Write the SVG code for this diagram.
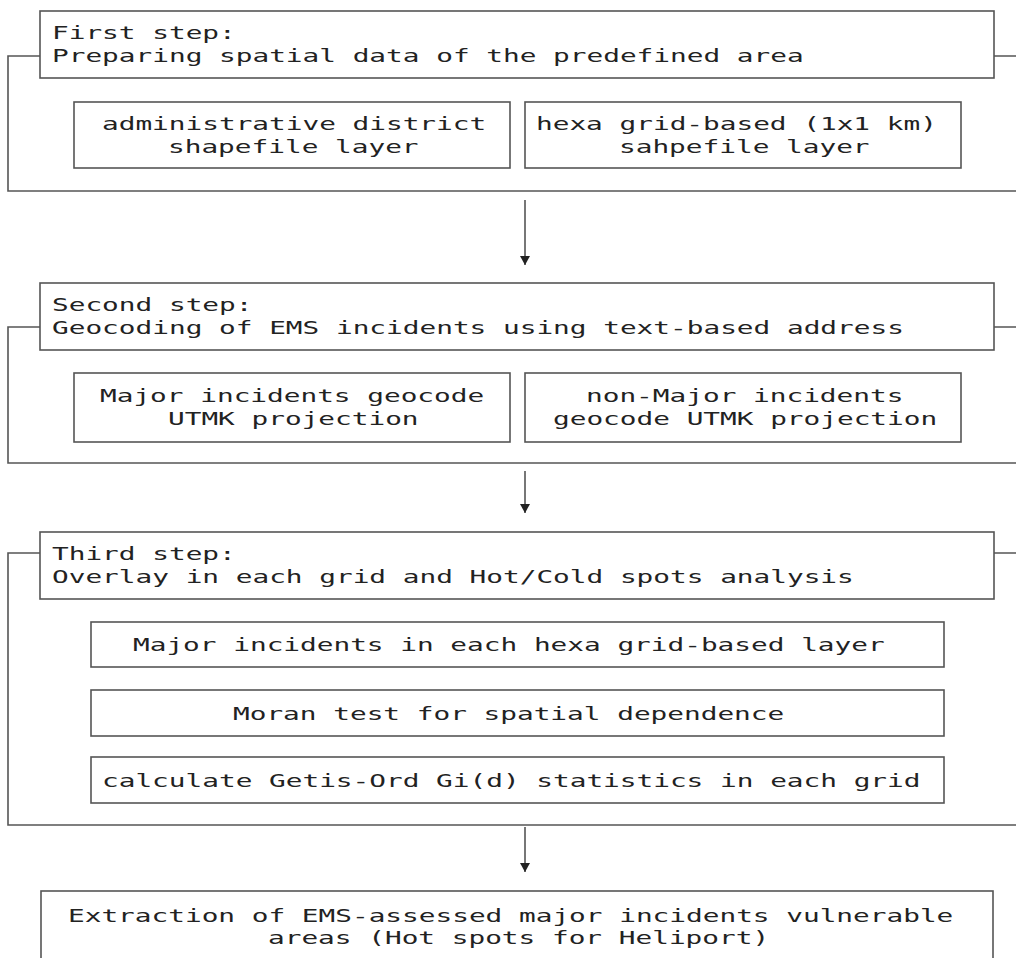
<svg xmlns="http://www.w3.org/2000/svg" width="1016" height="958" viewBox="0 0 1016 958">
<style>
.box{fill:#fff;stroke:#555;stroke-width:1.6}
.ln{fill:none;stroke:#555;stroke-width:1.6}
.t{font-family:"DejaVu Sans Mono","Liberation Mono",monospace;font-size:18.5px;fill:#222}
</style>
<defs>
<marker id="ah" markerUnits="userSpaceOnUse" markerWidth="12" markerHeight="12" refX="9" refY="5" orient="auto">
<path d="M0,0 L9,5 L0,10 z" fill="#222"/>
</marker>
</defs>
<rect width="1016" height="958" fill="#fff"/>

<g id="connectors">
<path class="ln" d="M40,56 H8 V191 H1016 M994,56 H1016"/>
<path class="ln" d="M40,327 H8 V463 H1016 M994,327 H1016"/>
<path class="ln" d="M40,553 H8 V825 H1016 M994,553 H1016"/>
<line class="ln" x1="525" y1="200" x2="525" y2="265" marker-end="url(#ah)"/>
<line class="ln" x1="525" y1="471" x2="525" y2="513" marker-end="url(#ah)"/>
<line class="ln" x1="525" y1="827" x2="525" y2="872" marker-end="url(#ah)"/>
</g>

<g id="step1">
<rect class="box" x="40" y="11" width="954" height="67"/>
<text class="t" transform="translate(52,39) scale(1.5,1)">First step:</text>
<text class="t" transform="translate(52,61.5) scale(1.5,1)">Preparing spatial data of the predefined area</text>
</g>
<g id="admin">
<rect class="box" x="74" y="102" width="436" height="66"/>
<text class="t" transform="translate(102,130) scale(1.5,1)">administrative district</text>
<text class="t" transform="translate(168,152.5) scale(1.5,1)">shapefile layer</text>
</g>
<g id="hexa">
<rect class="box" x="525" y="102" width="436" height="66"/>
<text class="t" transform="translate(536,130) scale(1.5,1)">hexa grid-based (1x1 km)</text>
<text class="t" transform="translate(619,152.5) scale(1.5,1)">sahpefile layer</text>
</g>

<g id="step2">
<rect class="box" x="40" y="283" width="954" height="67"/>
<text class="t" transform="translate(52,311) scale(1.5,1)">Second step:</text>
<text class="t" transform="translate(52,333.5) scale(1.5,1)">Geocoding of EMS incidents using text-based address</text>
</g>
<g id="major">
<rect class="box" x="74" y="373" width="436" height="69"/>
<text class="t" transform="translate(100,402) scale(1.5,1)">Major incidents geocode</text>
<text class="t" transform="translate(168,424.5) scale(1.5,1)">UTMK projection</text>
</g>
<g id="nonmajor">
<rect class="box" x="525" y="373" width="436" height="69"/>
<text class="t" transform="translate(586,402) scale(1.5,1)">non-Major incidents</text>
<text class="t" transform="translate(553,424.5) scale(1.5,1)">geocode UTMK projection</text>
</g>

<g id="step3">
<rect class="box" x="40" y="532" width="954" height="67"/>
<text class="t" transform="translate(52,560) scale(1.5,1)">Third step:</text>
<text class="t" transform="translate(52,582.5) scale(1.5,1)">Overlay in each grid and Hot/Cold spots analysis</text>
</g>
<g id="overlay">
<rect class="box" x="91" y="622" width="853" height="45"/>
<text class="t" transform="translate(133,651) scale(1.5,1)">Major incidents in each hexa grid-based layer</text>
</g>
<g id="moran">
<rect class="box" x="91" y="690" width="853" height="46"/>
<text class="t" transform="translate(233,719.5) scale(1.5,1)">Moran test for spatial dependence</text>
</g>
<g id="getis">
<rect class="box" x="91" y="757" width="853" height="46"/>
<text class="t" transform="translate(102,787) scale(1.5,1)">calculate Getis-Ord Gi(d) statistics in each grid</text>
</g>

<g id="extraction">
<rect class="box" x="41" y="891" width="952" height="80"/>
<text class="t" transform="translate(68,921.5) scale(1.5,1)">Extraction of EMS-assessed major incidents vulnerable</text>
<text class="t" transform="translate(268,944) scale(1.5,1)">areas (Hot spots for Heliport)</text>
</g>
</svg>
